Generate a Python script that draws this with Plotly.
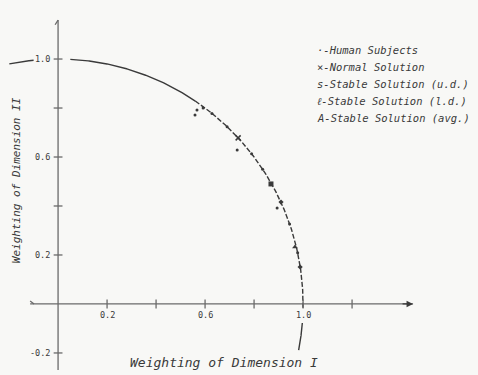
import numpy as np
import plotly.graph_objects as go

# ---- data ----
human_x = [0.559, 0.567, 0.592, 0.628, 0.690, 0.731, 0.790, 0.835, 0.894, 0.945, 0.978]
human_y = [0.771, 0.792, 0.800, 0.778, 0.724, 0.629, 0.613, 0.550, 0.392, 0.326, 0.209]
normal_x = [0.735]
normal_y = [0.678]
stable_ud_x = [0.869]
stable_ud_y = [0.490]
stable_ld_x = [0.910, 0.988]
stable_ld_y = [0.416, 0.151]
stable_avg_x = [0.967]
stable_avg_y = [0.233]

x_ticks = [0.2, 0.4, 0.6, 0.8, 1.0, 1.2]
x_tick_labels = {0.2: "0.2", 0.6: "0.6", 1.0: "1.0"}
y_ticks = [-0.2, 0.2, 0.4, 0.6, 0.8, 1.0]
y_tick_labels = {1.0: "1.0", 0.6: "0.6", 0.2: "0.2", -0.2: "-0.2"}

legend_items = ["·-Human Subjects", "×-Normal Solution", "s-Stable Solution (u.d.)",
                "ℓ-Stable Solution (l.d.)", "A-Stable Solution (avg.)"]

INK = "#3a3a3a"
AX = "#6a6a6a"
FONT = "DejaVu Sans Mono"

fig = go.Figure()

def arc(t0, t1, n=120):
    t = np.linspace(t0, t1, n)
    return np.cos(t), np.sin(t)

# unit-circle pieces
pieces = [
    (np.pi - np.arcsin(0.98), np.pi - np.arcsin(0.995), "solid"),
    (np.arccos(0.05), np.arccos(0.56), "solid"),
    (np.arccos(0.56), -0.02, "dash"),
    (-0.078, -0.19, "solid"),
]
for t0, t1, d in pieces:
    xs, ys = arc(t0, t1)
    fig.add_trace(go.Scatter(x=xs, y=ys, mode="lines",
                             line=dict(color=INK, width=1.4, dash="5px,2px" if d == "dash" else None),
                             hoverinfo="skip", showlegend=False))

# axes
fig.add_trace(go.Scatter(x=[-0.114, 1.449], y=[0, 0], mode="lines",
                         line=dict(color=AX, width=1.3), showlegend=False, hoverinfo="skip"))
fig.add_trace(go.Scatter(x=[0, 0], y=[1.159, -0.27], mode="lines",
                         line=dict(color=AX, width=1.3), showlegend=False, hoverinfo="skip"))
fig.add_trace(go.Scatter(x=[-0.114, -0.098], y=[0.012, 0], mode="lines",
                         line=dict(color=AX, width=1.3), showlegend=False, hoverinfo="skip"))
fig.add_trace(go.Scatter(x=[-0.012, 0], y=[1.14, 1.159], mode="lines",
                         line=dict(color=AX, width=1.3), showlegend=False, hoverinfo="skip"))
fig.add_annotation(x=1.449, y=0, ax=1.40, ay=0, xref="x", yref="y", axref="x", ayref="y",
                   showarrow=True, arrowhead=2, arrowsize=1, arrowwidth=1.3,
                   arrowcolor=INK, text="")

tl = 0.018
tx, ty = [], []
for t in x_ticks:
    tx += [t, t, None]
    ty += [-tl, tl, None]
for t in y_ticks:
    tx += [-tl, tl, None]
    ty += [t, t, None]
fig.add_trace(go.Scatter(x=tx, y=ty, mode="lines", line=dict(color=AX, width=1.3),
                         showlegend=False, hoverinfo="skip"))

for t, lab in x_tick_labels.items():
    fig.add_annotation(x=t, y=-0.043, text=lab, showarrow=False,
                       font=dict(family=FONT, size=8.5, color=INK))
for t, lab in y_tick_labels.items():
    fig.add_annotation(x=-0.026, y=t, text=lab, showarrow=False, xanchor="right",
                       font=dict(family=FONT, size=8.5, color=INK))

# data points
fig.add_trace(go.Scatter(x=human_x, y=human_y, mode="markers",
                         marker=dict(color=INK, size=3), showlegend=False))
fig.add_trace(go.Scatter(x=normal_x, y=normal_y, mode="markers",
                         marker=dict(color=INK, size=5, symbol="x-thin", line=dict(width=1.5, color=INK)),
                         showlegend=False))
fig.add_trace(go.Scatter(x=stable_ud_x, y=stable_ud_y, mode="markers",
                         marker=dict(color=INK, size=5, symbol="square"), showlegend=False))
fig.add_trace(go.Scatter(x=stable_ld_x, y=stable_ld_y, mode="markers",
                         marker=dict(color=INK, size=4, symbol="diamond"), showlegend=False))
fig.add_trace(go.Scatter(x=stable_avg_x, y=stable_avg_y, mode="markers",
                         marker=dict(color=INK, size=5, symbol="triangle-up"), showlegend=False))

# hand-lettered legend
ly = [1.037, 0.967, 0.898, 0.829, 0.759]
for txt, yy in zip(legend_items, ly):
    fig.add_annotation(x=1.049, y=yy, text="<i>" + txt + "</i>", showarrow=False, xanchor="left",
                       font=dict(family=FONT, size=10.5, color=INK))

# axis titles
fig.add_annotation(x=0.678, y=-0.237, text="<i>Weighting of Dimension I</i>", showarrow=False,
                   font=dict(family=FONT, size=13, color=INK))
fig.add_annotation(x=-0.171, y=0.506, text="<i>Weighting of Dimension II</i>", showarrow=False,
                   textangle=-90, font=dict(family=FONT, size=11, color=INK))

fig.update_layout(
    width=478, height=375, margin=dict(l=0, r=0, t=0, b=0),
    paper_bgcolor="#f8f8f6", plot_bgcolor="#f8f8f6",
    xaxis=dict(range=[-0.237, 1.714], visible=False, fixedrange=True),
    yaxis=dict(range=[-0.29, 1.241], visible=False, fixedrange=True),
    showlegend=False,
)
fig.write_html("out.html")
